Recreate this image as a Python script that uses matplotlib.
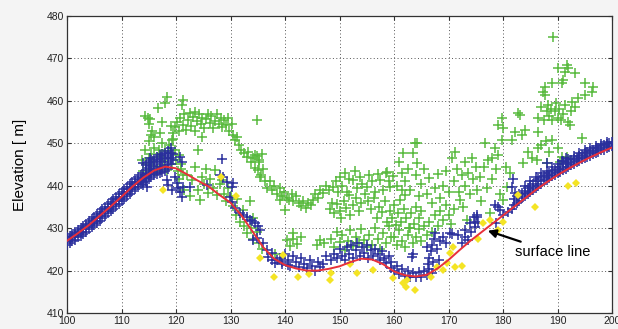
import matplotlib
matplotlib.use("Agg")
import matplotlib.pyplot as plt
import numpy as np

# ---------------- data ----------------
# surface line (red)
line_x = [100, 102, 104, 106, 108, 110, 112, 114, 116, 118, 120, 122, 124, 126, 128, 130,
          132, 134, 136, 138, 140, 142, 144, 146, 148, 150, 152, 154, 156, 158, 160, 162,
          164, 166, 168, 170, 172, 174, 176, 178, 180, 182, 184, 186, 188, 190, 192, 194,
          196, 198, 200]
line_y = [427.0, 428.8, 430.7, 432.9, 435.1, 437.4, 439.8, 441.9, 443.6, 444.5, 444.1,
          442.7, 441.2, 439.8, 437.8, 436.0, 433.0, 429.3, 425.5, 422.8, 421.3, 420.5,
          420.0, 420.0, 420.4, 421.0, 422.0, 422.8, 422.6, 421.5, 419.8, 418.9, 418.6,
          419.0, 420.5, 422.5, 424.8, 427.0, 429.0, 431.0, 433.0, 435.0, 437.0, 439.0,
          440.8, 442.5, 444.0, 445.4, 446.7, 447.9, 449.0]

# green points (x, elevation)
green_peak = [(114.5, 445), (115, 446.5), (115.2, 444), (115.5, 447.5), (115.8, 445.5), (116, 449),
              (116.3, 443.5), (116.5, 446.8), (116.8, 448.5), (117, 444.6), (117.3, 447), (117.5, 450),
              (117.8, 445.8), (118, 448.2), (118.3, 443.8), (118.5, 446.5), (118.8, 449.5), (119, 447.8),
              (119.3, 445), (119.5, 451), (119.8, 448.5), (120, 446), (120.3, 443.5), (120.6, 447.3),
              (121, 445), (121.3, 442.5), (114, 443.5), (113.8, 446), (114.3, 448.5), (115, 450.5),
              (115.5, 452), (116, 451.5)]
green_top = [(114.3, 456.5), (114.8, 456), (115.2, 455.8), (115.1, 454.5), (115.6, 453), (116.7, 458.3),
             (118, 459.5), (118.3, 460.9), (121.1, 459), (121.3, 460.2), (123.5, 457.4), (117.5, 455),
             (117, 452.5), (119, 454), (134.8, 455.5), (124.7, 451.5), (124.1, 448.4)]
green_arc = [(119.2, 450.8), (119.5, 452.5), (119.8, 453.9), (120.2, 455), (120.5, 452.8), (120.8, 456),
             (121.2, 454.2), (121.5, 456.8), (121.8, 453.2), (122.2, 455.5), (122.5, 457.2), (122.8, 454),
             (123.2, 456.2), (123.5, 453), (123.8, 455.3), (124.2, 457), (124.5, 454.5), (124.8, 456),
             (125.2, 453.6), (125.5, 455.8), (125.8, 457), (126.2, 454.8), (126.5, 456.5), (126.8, 453.5),
             (127.2, 455.2), (127.5, 457), (127.8, 454.5), (128.2, 456), (128.5, 453.8), (128.8, 455.5),
             (129.2, 454.2), (129.5, 456), (129.8, 452.8), (130.2, 454.5), (130.5, 452), (130.8, 450.8),
             (131.2, 451.5), (131.5, 449.5), (132, 448.5), (132.5, 447.8), (133, 446.8), (133.3, 448),
             (133.8, 445.5), (134.2, 446.5), (134.5, 444.2), (134.8, 447), (135, 443.7), (135.3, 445.5),
             (135.6, 442.5), (136, 444), (136.3, 441.2), (136.7, 439.5), (137.2, 441), (137.6, 439),
             (138, 440), (138.5, 438), (139, 439.5), (139.4, 437.5), (139.8, 438.5), (140.3, 437),
             (134.5, 447.2), (135.2, 446), (135.8, 447.5), (135.5, 442)]
green_mid = [(140.8, 436.6), (141.2, 438), (141.5, 436.3), (142, 437.5), (142.5, 436), (143, 435.2),
             (143.3, 436.5), (143.8, 434.8), (144.3, 436), (144.8, 435.5), (145.1, 436.6), (145.5, 438),
             (146, 437), (146.4, 439), (147, 438.2), (147.5, 440), (148, 439), (148.8, 439.7),
             (149.3, 441), (149.8, 438.5), (150.1, 442), (150.5, 440), (151, 443), (151.3, 438.5),
             (151.8, 441.5), (152.5, 441.3), (152.8, 443.5), (153.2, 439.5), (153.8, 442), (154.2, 440.5),
             (155, 439.7), (155.5, 442.5), (156, 441), (156.5, 438.5), (157, 442.8), (157.4, 441.3),
             (158, 439), (158.5, 443), (159, 441), (159.3, 439.7), (159.8, 442.2), (160.5, 440),
             (161.1, 436.6), (161.5, 439), (162, 437.8), (139.1, 436.6), (140, 434.2),
             (148.2, 434.5), (148.6, 436), (149, 433.5), (149.5, 435.8), (150, 434), (150.3, 432.5),
             (150.8, 436.5), (151.2, 434.8), (151.7, 437.8), (152, 433), (152.4, 435.5), (153, 437),
             (153.5, 434), (154, 436), (154.6, 438), (155.2, 436.5), (155.8, 434.5), (156.3, 437),
             (156.8, 432.5), (157.2, 435), (157.8, 433.8), (158.3, 436.5), (158.8, 431.5), (159.2, 434),
             (159.6, 432.5), (160, 435.5), (160.4, 430.8), (160.8, 433.5), (161.3, 431.5), (161.8, 434.5),
             (162.2, 432.5), (162.7, 430), (163.2, 433.5), (163.6, 431), (164, 435), (164.5, 432.5),
             (165, 434), (158.7, 443.2), (161.7, 447.7), (163.9, 450.1), (164.2, 445.3)]
green_low = [(148.5, 427.5), (149, 425.5), (149.5, 429), (150, 426.8), (150.5, 428.5), (151, 424.8),
             (151.5, 427), (152, 429.5), (152.5, 425.8), (153, 428), (153.5, 426.5), (154, 429.8),
             (154.5, 427.2), (155, 425.5), (155.5, 428.5), (156, 426), (156.5, 430), (157, 427.5),
             (157.5, 425.2), (158, 428.8), (158.5, 426.5), (159, 430.5), (159.5, 428),
             (141, 425.8), (141.5, 427.5), (142.2, 426.2), (143, 427.9), (140.4, 427.2), (141.5, 428.8),
             (138.2, 424), (145.9, 426), (146.4, 427.2), (147.2, 426.5),
             (160, 428), (160.5, 426), (161, 429.5), (161.5, 427), (162, 425.5), (162.5, 428.5),
             (163, 430), (163.5, 426.5), (164, 428), (164.5, 429.8), (165, 427), (165.5, 430.5),
             (166, 428.5), (166.5, 431.5), (167, 429), (167.5, 433), (168, 430.5), (168.5, 434),
             (169, 432), (169.5, 435.5), (170, 433), (170.5, 431), (171, 434.5)]
green_lowarc = [(120.5, 441.5), (121, 444), (121.5, 439), (122, 442.5), (122.5, 437.5), (123, 441.3),
                (123.5, 444.4), (124, 439), (124.4, 436.6), (124.8, 442), (125.2, 440.3), (125.5, 444),
                (125.9, 438.3), (126.3, 441.5), (126.8, 439.5), (127.2, 443.7), (127.5, 437.8), (128, 440.5),
                (128.4, 441.3), (128.8, 438), (129.2, 436.5), (129.5, 439.5), (130, 437.5), (130.5, 435.2),
                (131, 433), (131.2, 436.8), (131.8, 431.5), (132.5, 430.5), (133, 428.8), (133.8, 430),
                (134.2, 427.5), (134.8, 429.2), (135.2, 426.5), (135.8, 425), (132.3, 434.2), (133.5, 436.5),
                (134.2, 432.5)]
green_upper_right = [(161, 445.5), (161.5, 443), (162, 441), (162.5, 444), (163, 439), (163.5, 447.7),
                     (164, 442.5), (164.2, 450), (164.5, 437.5), (165, 440.5), (165.5, 444), (166, 438),
                     (166.5, 441.8), (167, 436), (167.5, 439.5), (168, 442.8), (168.5, 437), (169, 440),
                     (169.5, 443.5), (170, 438.5), (170.6, 446.5), (171.2, 447.9), (171, 441), (171.5, 444),
                     (172, 438.5), (172.1, 436.6), (172.5, 442.5), (172.7, 435), (173, 445.6), (173, 440),
                     (173.4, 431.9), (173.5, 443), (174, 438), (174.3, 446.5), (174.5, 441.5), (175, 444.5),
                     (175.2, 439), (175.8, 442), (176, 436.5), (176.5, 444.4), (176.7, 450), (177, 439.5),
                     (177.2, 446), (177.6, 433.5), (177.9, 446.5), (178, 441.5), (178.5, 448.9), (178.8, 444),
                     (179.1, 447.2), (179.1, 454.3), (179.5, 438), (179.8, 455.9), (179.8, 450.8), (180, 453.6),
                     (180, 436.6), (180.5, 444.5), (180.7, 439.7), (181.3, 443), (181.7, 450.8), (182.2, 452.6),
                     (182.8, 457.1), (183.1, 456.7), (183.5, 451.9), (183.7, 445.3), (184, 453.1), (184.5, 448),
                     (185.3, 446.5), (186.2, 446), (186.4, 452.6), (186.4, 448.9)]
green_far_right = [(186.5, 456), (187, 458.5), (187.3, 462), (187.7, 463.2), (187.7, 461.3), (187.5, 455.5),
                   (188, 457.5), (188.1, 445.3), (188.3, 459), (188.5, 456.5), (188.8, 458), (189, 464.2),
                   (189, 455.5), (189.2, 475.1), (189.5, 457.5), (189.8, 459.5), (190, 456), (190.1, 467.7),
                   (190.1, 448.9), (190.3, 458), (190.5, 445.6), (190.6, 455.5), (190.8, 464.2), (190.8, 446.7),
                   (191, 464.9), (191, 457), (191.4, 459), (191.4, 466.8), (191.7, 468.4), (191.7, 446.7),
                   (191.9, 467.7), (191.9, 455), (192.3, 454.3), (192.7, 459.7), (193.2, 466.6), (193.8, 460.7),
                   (194.5, 451.2), (195, 464.2), (195, 461.3), (196.3, 462), (196.5, 463.2), (187, 449.5),
                   (187.8, 450.5), (188.5, 448), (189, 450.8), (192.5, 457.5), (193.2, 458.5)]

# blue band: (x, y values)
blue_band = [(100, 426.0, 427.0, 427.8), (100.5, 426.4, 427.5, 428.2), (101, 426.9, 427.8, 428.7),
             (101.5, 427.3, 428.3, 429.0), (102, 427.8, 428.8, 429.6), (102.5, 428.2, 429.2, 430.1),
             (103, 428.7, 429.7, 430.6), (103.5, 429.1, 430.2, 431.0), (104, 429.7, 430.7, 431.6),
             (104.5, 430.2, 431.2, 432.2), (105, 430.7, 431.8, 432.7), (105.5, 431.2, 432.3, 433.3),
             (106, 431.8, 432.9, 433.9), (106.5, 432.4, 433.4, 434.4), (107, 432.9, 434.0, 435.0),
             (107.5, 433.5, 434.5, 435.6), (108, 434.0, 435.1, 436.2), (108.5, 434.6, 435.7, 436.8),
             (109, 435.2, 436.3, 437.4), (109.5, 435.8, 436.8, 438.0), (110, 436.3, 437.4, 438.6),
             (110.5, 436.9, 438.0, 439.2), (111, 437.5, 438.6, 439.8), (111.5, 438.1, 439.2, 440.4),
             (112, 438.7, 439.8, 440.9), (112.5, 439.2, 440.3, 441.5), (113, 439.8, 440.9, 442.0),
             (113.5, 440.3, 441.4, 442.6), (114, 440.8, 441.9, 443.1), (114.5, 441.2, 442.4, 443.6, 444.8),
             (115, 441.6, 442.8, 444.2, 445.5), (115.5, 442.0, 443.2, 444.6, 446.0),
             (116, 442.5, 443.6, 445.0, 446.3), (116.5, 442.8, 444.0, 445.5, 446.8),
             (117, 443.0, 444.3, 445.8, 447.2), (117.5, 443.2, 444.5, 446.2, 447.5),
             (118, 443.5, 444.8, 446.5, 447.8), (118.5, 444.0, 445.5, 447.0, 448.2),
             (119, 445.0, 446.5, 447.6, 448.8), (119.5, 446.0, 447.5),
             (182, 435.5, 436.8), (182.5, 436, 437.5), (183, 436.5, 438), (183.5, 437, 438.3),
             (184, 437.5, 438.8, 440), (184.5, 438, 439.5), (185, 438.5, 440, 441), (185.5, 439, 440.5),
             (186, 439.5, 441, 442), (186.5, 440, 441.5), (187, 440.5, 442, 443), (187.5, 441, 442.3),
             (188, 441.3, 442.6, 443.5), (188.5, 441.8, 443), (189, 442.2, 443.4, 444.3),
             (189.5, 442.5, 443.8), (190, 443, 444, 445), (190.5, 443.3, 444.5), (191, 443.7, 445, 445.8),
             (191.5, 444, 445.3), (192, 444.4, 445.6, 446.4), (192.5, 444.8, 446), (193, 445.2, 446.3, 447),
             (193.5, 445.5, 446.6), (194, 445.9, 447, 447.7), (194.5, 446.2, 447.3),
             (195, 446.5, 447.6, 448.3), (195.5, 446.8, 447.9), (196, 447.1, 448.2, 448.8),
             (196.5, 447.4, 448.5), (197, 447.7, 448.8, 449.3), (197.5, 448, 449),
             (198, 448.3, 449.3, 449.8), (198.5, 448.5, 449.5), (199, 448.8, 449.8, 450.3),
             (199.5, 449.1, 450), (200, 449.3, 450.3)]
blue_scatter = [(115.2, 446.5), (113.9, 445.3), (114.3, 441.8), (114.7, 439.7), (118.3, 441.3), (119.3, 439),
                (120.2, 440.6), (121.3, 439.7), (122.6, 439.7), (120.7, 446.8), (121.1, 445.6), (128.4, 446.3),
                (128.1, 442.5), (129.4, 440.8), (130.3, 439.7), (129.9, 437.3), (119.8, 442), (118.5, 440.1),
                (120.4, 439.4), (120.7, 438.5), (121.1, 437.3), (113.9, 440.1), (125.7, 440.1),
                (128.6, 442), (130.5, 440.6), (130.3, 436.1), (130.8, 434.7), (131.7, 433.5), (133, 432.6),
                (133.6, 431.9), (134.5, 431.2), (135.4, 429.5), (134.9, 427.6), (134.1, 427.2), (136, 426.5),
                (136.7, 424.8), (137.6, 424.1), (138.5, 422.5), (132.3, 433), (133.9, 431.8), (135, 430.4),
                (136.9, 423.2), (137.6, 422.5), (138.2, 421.7), (139.4, 422.1), (140.6, 421.3),
                (139, 423), (139.5, 421.5), (140, 424), (140.5, 422.5), (141, 421), (141.5, 423.5),
                (142, 422), (142.5, 420.8), (143, 423), (143.5, 421.5), (144, 420.5), (144.5, 422.5),
                (145, 421), (145.5, 420), (146, 422), (146.5, 420.8), (147, 421.5), (147.5, 423.5),
                (148.5, 422.5), (149, 424), (149.5, 423), (150, 425), (150.5, 423.5), (151, 422.5),
                (151.3, 425.5), (151.8, 424), (152.2, 426), (152.5, 423), (153, 424.8), (153.3, 426.5),
                (153.8, 423.5), (154.2, 425.5), (154.5, 424.2), (155, 426), (155.3, 423), (155.8, 424.8),
                (156.2, 423.5), (156.5, 425.2), (157, 424), (157.4, 422.5), (157.8, 424.5), (158.2, 423),
                (158.6, 421.8), (159, 423.5), (159.5, 422), (163.5, 424), (163.3, 423.2),
                (159.5, 420.5), (160, 419.8), (160.5, 421), (161, 419.2), (161.5, 420.3), (162, 418.7),
                (162.5, 419.8), (163, 418.5), (163.5, 419.5), (164, 418.4), (164.5, 419.6), (165, 418.6),
                (165.5, 419.8), (166, 419), (166.5, 420.3), (167, 419.5),
                (166.2, 421.5), (166.5, 423), (166.8, 424.5), (167, 426), (167.3, 427.5), (167.6, 428.8),
                (167.8, 425), (168.2, 422.5), (168.5, 427), (166, 425.5), (167.2, 422), (169, 428),
                (169.5, 426.5), (170.3, 428.8), (170.6, 428.7), (171.8, 428.3), (172.4, 426.4), (173, 428),
                (173.6, 427.2), (174.2, 429.1), (174.8, 430.3), (175.5, 431.1), (175.2, 433.1),
                (174.6, 432.7), (174, 431.1), (173, 429.5), (178.5, 435.4), (179.1, 435), (178.8, 431.1),
                (180, 433.1), (181, 433.8), (181.6, 434.6), (182.2, 438.2), (181.9, 441.7), (181.7, 439.7),
                (179.4, 434.2), (175.2, 432.6), (174.9, 431.4), (188.1, 445.3), (190.8, 445.8),
                (191.5, 446.5)]

# yellow diamonds
yellow_pts = [(117.6, 439), (128.3, 442), (131.0, 437.6), (135.4, 423), (137.9, 418.4), (139.6, 423.6),
              (142.4, 418.4), (144.4, 419.2), (148.5, 419.5), (148.3, 417.8), (151.9, 421.5),
              (153.2, 419.4), (156.1, 420.1), (159.8, 418.2), (161.7, 417), (162.2, 416.2),
              (162.4, 417.8), (163.9, 415.4), (166.8, 418.4), (167.9, 420.8), (169, 420.1),
              (169.7, 421.7), (170.3, 424.1), (170.8, 425.5), (171.2, 420.8), (172.5, 421),
              (175.4, 427.5), (176.3, 431.3), (177.6, 431.9), (179.1, 429.5), (180, 431.4),
              (182.7, 437.8), (185.9, 435), (191.9, 440), (193.4, 440.7)]

x_ticks = [100, 110, 120, 130, 140, 150, 160, 170, 180, 190, 200]
y_ticks = [410, 420, 430, 440, 450, 460, 470, 480]
y_label = "Elevation [ m]"
annot_text = "surface line"

# ---------------- plot ----------------
W, H, DPI = 618, 329, 100
fig = plt.figure(figsize=(W / DPI, H / DPI), dpi=DPI, facecolor="#f4f4f4")
ax = fig.add_axes([67 / W, 1 - 313 / H, (612 - 67) / W, (313 - 16) / H])
ax.set_facecolor("white")

def unzip(pts):
    return [p[0] for p in pts], [p[1] for p in pts]

green_all = green_peak + green_top + green_arc + green_mid + green_low + green_lowarc + \
    green_upper_right + green_far_right
gx, gy = unzip(green_all)
ax.plot(gx, gy, linestyle="none", marker="+", ms=6.5, mew=1.1, color="#58ba3e", zorder=3)

bx, by = [], []
for row in blue_band:
    for v in row[1:]:
        bx.append(row[0])
        by.append(v)
sx, sy = unzip(blue_scatter)
bx += sx
by += sy
ax.plot(bx, by, linestyle="none", marker="+", ms=6.5, mew=1.1, color="#2a2f9c", zorder=4)

yx, yy = unzip(yellow_pts)
ax.plot(yx, yy, linestyle="none", marker="D", ms=4, mew=0, color="#f4e424", zorder=5)

ax.plot(line_x, line_y, color="#e8303a", lw=1.4, zorder=6)

ax.annotate(annot_text, xy=(177.2, 429.4), xytext=(182.2, 424.3),
            fontsize=10.5, family="Liberation Sans", va="center", ha="left",
            arrowprops=dict(arrowstyle="-|>", color="black", lw=1.6, mutation_scale=12,
                            shrinkA=2, shrinkB=0), zorder=7)

ax.set_xlim(100, 200)
ax.set_ylim(410, 480)
ax.set_xticks(x_ticks)
ax.set_yticks(y_ticks)
tick_font = dict(family=["Liberation Sans Narrow", "Liberation Sans"], size=7.5)
ax.set_xticklabels([str(t) for t in x_ticks], **tick_font)
ax.set_yticklabels([str(t) for t in y_ticks], **tick_font)
ax.tick_params(direction="in", length=3, width=0.8, color="#333333", pad=2,
               top=True, right=True, labelcolor="#222222")
ax.grid(True, linestyle=(0, (1, 2.5)), color="#555555", lw=0.7)
for s in ax.spines.values():
    s.set_color("#333333")
    s.set_linewidth(0.9)
ax.set_ylabel(y_label, family="Liberation Sans", fontsize=11, labelpad=14)
ax.yaxis.set_label_coords(-0.073, 0.5)

fig.savefig("out.png", dpi=DPI, facecolor=fig.get_facecolor())
